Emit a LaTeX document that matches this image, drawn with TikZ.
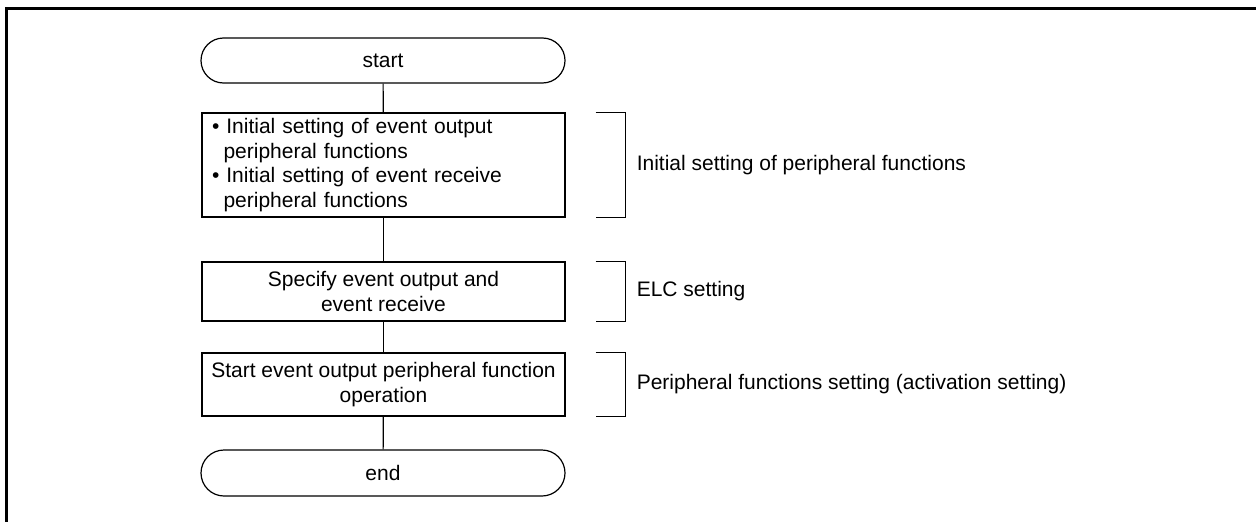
\documentclass[tikz,border=0pt]{standalone}
\usepackage{fontspec}
\setmainfont{Liberation Sans}
\usetikzlibrary{shapes.misc}

\begin{document}
\begin{tikzpicture}[x = 1pt, y = 1pt,
    every node/.style = {font = \fontsize{21}{24.5}\selectfont},
    term/.style = {draw, line width = 1.2pt, rounded rectangle, minimum width = 364pt, minimum height = 45pt, inner sep = 0pt},
    proc/.style = {draw, line width = 1.2pt, minimum width = 363pt, inner sep = 0pt, align = center},
    link/.style = {line width = 1.2pt},
    note/.style = {anchor = west, inner sep = 0pt}]
    \useasboundingbox (0, 0) rectangle (1256, -522);
    \draw[line width = 3pt] (6.3, -522) -- (6.3, -8.3) -- (1256, -8.3);

    \node[term] (start) at (383, -60.5) {start};
    \node[proc, minimum height = 104pt, text width = 343pt, align = left] (init) at (383.5, -165)
        {\textbullet\ Initial setting of event output\\
         \hspace*{11.5pt}peripheral functions\\
         \textbullet\ Initial setting of event receive\\
         \hspace*{11.5pt}peripheral functions};
    \node[proc, minimum height = 59pt] (elc) at (383.5, -291.5) {Specify event output and\\ event receive};
    \node[proc, minimum height = 63pt] (act) at (383.5, -384.5) {Start event output peripheral function\\ operation};
    \node[term, minimum height = 46pt] (end) at (383, -473) {end};

    \draw[link] (start) -- (init);
    \draw[link] (init) -- (elc);
    \draw[link] (elc) -- (act);
    \draw[link] (act) -- (end);

    % brackets and notes
    \draw[link] ([xshift = 30pt]init.north east) -- ++(30, 0) |- ([xshift = 30pt]init.south east);
    \node[note] (initnote) at ([xshift = 71pt]init.east) {Initial setting of peripheral functions};

    \draw[link] ([xshift = 30pt]elc.north east) -- ++(30, 0) |- ([xshift = 30pt]elc.south east);
    \node[note] (elcnote) at ([xshift = 71pt]elc.east) {ELC setting};

    \draw[link] ([xshift = 30pt]act.north east) -- ++(30, 0) |- ([xshift = 30pt]act.south east);
    \node[note] (actnote) at ([xshift = 71pt]act.east) {Peripheral functions setting (activation setting)};
\end{tikzpicture}
\end{document}
